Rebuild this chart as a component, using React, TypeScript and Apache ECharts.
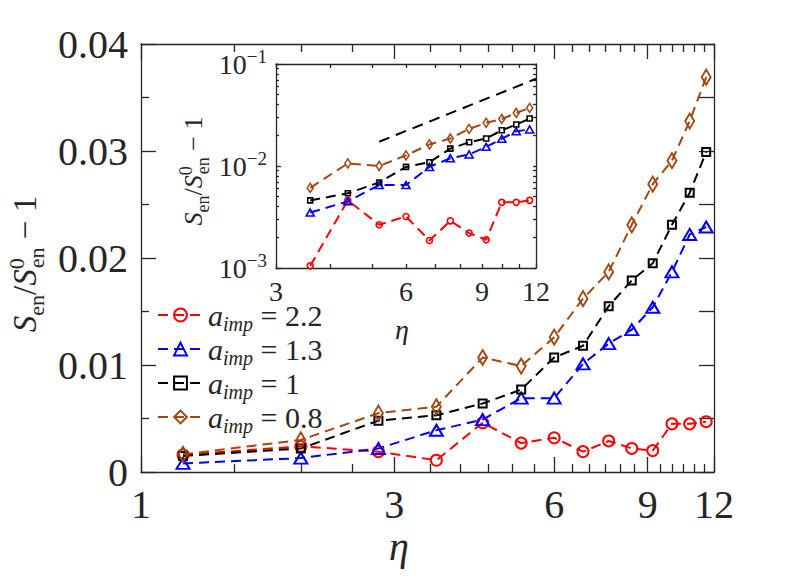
import React, { useEffect, useRef } from 'react';
import * as echarts from 'echarts';

const FONT = "'Liberation Serif', 'Times New Roman', serif";
const TXT = '#262626';
const RED = '#ff0000';
const BLUE = '#0000ff';
const BLACK = '#000000';
const BROWN = '#a3470f';

// main panel data (eta on log axis, linear y)
const etaMain = [1.2, 2.0, 2.8, 3.6, 4.4, 5.2, 6.0, 6.8, 7.6, 8.4, 9.2, 10.0, 10.8, 11.6];
const yRed = [0.0016, 0.0024, 0.0019, 0.0011, 0.0046, 0.0027, 0.0032, 0.0019, 0.0029, 0.0022, 0.002, 0.0045, 0.0045, 0.0047];
const yBlue = [0.0008, 0.0013, 0.0022, 0.0039, 0.0049, 0.0069, 0.0069, 0.0101, 0.012, 0.0133, 0.0154, 0.0187, 0.0222, 0.0229];
const yBlack = [0.0015, 0.0022, 0.0048, 0.0053, 0.0064, 0.0077, 0.0107, 0.0118, 0.0155, 0.0179, 0.0195, 0.0231, 0.0261, 0.0299];
const yBrown = [0.00165, 0.003, 0.0055, 0.0061, 0.0107, 0.0099, 0.0126, 0.0162, 0.0187, 0.0231, 0.0269, 0.0291, 0.0328, 0.0369];

// inset data (log-log)
const etaInset = [3.6, 4.4, 5.2, 6.0, 6.8, 7.6, 8.4, 9.2, 10.0, 10.8, 11.6];
const iRed = [0.00105, 0.0046, 0.00265, 0.0032, 0.00186, 0.0029, 0.0022, 0.00189, 0.0044, 0.0044, 0.0046];
const iBlue = [0.0035, 0.0045, 0.0065, 0.0065, 0.0098, 0.0119, 0.013, 0.0154, 0.0185, 0.0219, 0.0228];
const iBlack = [0.0046, 0.0054, 0.0069, 0.0098, 0.0109, 0.0148, 0.0171, 0.0186, 0.0224, 0.0255, 0.0292];
const iBrown = [0.0061, 0.0106, 0.01, 0.0127, 0.0163, 0.0186, 0.0231, 0.0265, 0.0289, 0.0331, 0.0371];
const refEta = [5.2, 12];
const refVal = [0.0173, 0.0716];

const legendNames = ['2.2', '1.3', '1', '0.8'];

// ticks
const xMajor = [1, 3, 6, 9, 12];
const xMinor = [1.5, 2, 2.5, 3.5, 4, 4.5, 5, 5.5, 6.5, 7, 7.5, 8, 8.5, 9.5, 10, 10.5, 11, 11.5];
const insetXTicks = [3, 4, 5, 6, 7, 8, 9, 10, 11, 12];
const insetXLabels = [3, 6, 9, 12];
const insetYMajor = [0.001, 0.01, 0.1];
const insetYMinor = [0.002, 0.003, 0.004, 0.005, 0.006, 0.007, 0.008, 0.009, 0.02, 0.03, 0.04, 0.05, 0.06, 0.07, 0.08, 0.09];

const lg = (v: number) => Math.log10(v);
const AX = { color: TXT, width: 1.3 };

function mainSeries(name: string, ys: number[], color: string, symbol: string, size: any) {
  return {
    type: 'line', name, xAxisIndex: 0, yAxisIndex: 0,
    data: etaMain.map((e, i) => [lg(e), ys[i]]),
    symbol, symbolSize: size, showAllSymbol: true,
    lineStyle: { color, width: 2, type: [10, 6] },
    itemStyle: { color: 'rgba(0,0,0,0)', borderColor: color, borderWidth: 2 },
    emphasis: { disabled: true }, silent: true, z: 3,
  };
}
function insetSeries(name: string, ys: number[], color: string, symbol: string, size: any) {
  return {
    type: 'line', name, xAxisIndex: 4, yAxisIndex: 2,
    data: etaInset.map((e, i) => [lg(e), lg(ys[i])]),
    symbol, symbolSize: size, showAllSymbol: true,
    lineStyle: { color, width: 2, type: [10, 6] },
    itemStyle: { color: 'rgba(0,0,0,0)', borderColor: color, borderWidth: 1.6 },
    emphasis: { disabled: true }, silent: true, z: 3,
  };
}

const labelRich = (big: number, small: number, lh: number, subPad: number, supPad: number) => ({
  i: { fontStyle: 'italic', fontSize: big, fontFamily: FONT, lineHeight: lh, align: 'left', verticalAlign: 'middle', fill: TXT, color: TXT },
  n: { fontSize: big, fontFamily: FONT, lineHeight: lh, align: 'left', verticalAlign: 'middle', fill: TXT, color: TXT },
  sb: { fontSize: small, fontFamily: FONT, lineHeight: small, padding: [subPad, 0, 0, 0], align: 'left', verticalAlign: 'middle', fill: TXT, color: TXT },
  sp: { fontSize: small, fontFamily: FONT, lineHeight: small, width: 1, padding: [0, 0, supPad, 0], align: 'left', verticalAlign: 'middle', fill: TXT, color: TXT },
});
const yLabelText = '{i|S}{sb|en}{n|/}{i|S}{sp|0}{sb|en}{n| − 1}';

const option: any = {
  animation: false,
  backgroundColor: '#ffffff',
  grid: [
    { left: 141, top: 44, width: 573, height: 428, outerBoundsMode: 'none', containLabel: false },
    { left: 276, top: 64, width: 260, height: 204, outerBoundsMode: 'none', containLabel: false, show: true, backgroundColor: '#ffffff', borderWidth: 0 },
  ],
  legend: {
    data: legendNames, orient: 'vertical', left: 157, top: 296, padding: 0,
    itemWidth: 45, itemHeight: 16, itemGap: -4, selectedMode: false,
    formatter: (n: string) => `{a|a}{s|imp}{e| = ${n}}`,
    textStyle: {
      color: TXT, fontFamily: FONT, fontSize: 29,
      rich: {
        a: { fontStyle: 'italic', fontSize: 30, fontFamily: FONT, lineHeight: 26, align: 'left', verticalAlign: 'middle', color: TXT },
        s: { fontStyle: 'italic', fontSize: 20, fontFamily: FONT, lineHeight: 8, padding: [18, 0, 0, 0], align: 'left', verticalAlign: 'middle', color: TXT },
        e: { fontSize: 30, fontFamily: FONT, lineHeight: 26, align: 'left', verticalAlign: 'middle', color: TXT },
      },
    },
  },
  xAxis: [
    {
      gridIndex: 0, type: 'value', min: 0, max: lg(12), position: 'bottom',
      axisLine: { show: true, onZero: false, lineStyle: AX },
      axisTick: { show: true, inside: true, length: 15, customValues: xMajor.map(lg), lineStyle: AX },
      axisLabel: { show: true, customValues: xMajor.map(lg), formatter: (v: number) => String(Math.round(Math.pow(10, v))), fontFamily: FONT, fontSize: 40, color: TXT, margin: 12 },
      splitLine: { show: false },
    },
    {
      gridIndex: 0, type: 'value', min: 0, max: lg(12), position: 'bottom',
      axisLine: { show: false, onZero: false },
      axisTick: { show: true, inside: true, length: 8, customValues: xMinor.map(lg), lineStyle: AX },
      axisLabel: { show: false }, splitLine: { show: false },
    },
    {
      gridIndex: 0, type: 'value', min: 0, max: lg(12), position: 'top',
      axisLine: { show: true, onZero: false, lineStyle: AX },
      axisTick: { show: true, inside: true, length: 15, customValues: xMajor.map(lg), lineStyle: AX },
      axisLabel: { show: false }, splitLine: { show: false },
    },
    {
      gridIndex: 0, type: 'value', min: 0, max: lg(12), position: 'top',
      axisLine: { show: false, onZero: false },
      axisTick: { show: true, inside: true, length: 8, customValues: xMinor.map(lg), lineStyle: AX },
      axisLabel: { show: false }, splitLine: { show: false },
    },
    {
      gridIndex: 1, type: 'value', min: lg(3), max: lg(12), position: 'bottom',
      axisLine: { show: true, onZero: false, lineStyle: AX },
      axisTick: { show: true, inside: true, length: 4, customValues: insetXTicks.map(lg), lineStyle: AX },
      axisLabel: { show: true, customValues: insetXLabels.map(lg), formatter: (v: number) => String(Math.round(Math.pow(10, v))), fontFamily: FONT, fontSize: 28, lineHeight: 18, color: TXT, margin: 14 },
      splitLine: { show: false },
    },
    {
      gridIndex: 1, type: 'value', min: lg(3), max: lg(12), position: 'top',
      axisLine: { show: true, onZero: false, lineStyle: AX },
      axisTick: { show: true, inside: true, length: 4, customValues: insetXTicks.map(lg), lineStyle: AX },
      axisLabel: { show: false }, splitLine: { show: false },
    },
  ],
  yAxis: [
    {
      gridIndex: 0, type: 'value', min: 0, max: 0.04, interval: 0.01, position: 'left',
      axisLine: { show: true, onZero: false, lineStyle: AX },
      axisTick: { show: true, inside: true, length: 15, lineStyle: AX },
      minorTick: { show: true, splitNumber: 2, length: 8, lineStyle: AX },
      axisLabel: { show: true, formatter: (v: number) => (Math.abs(v) < 1e-9 ? '0' : v.toFixed(2)), fontFamily: FONT, fontSize: 40, color: TXT, margin: 13 },
      splitLine: { show: false }, minorSplitLine: { show: false },
    },
    {
      gridIndex: 0, type: 'value', min: 0, max: 0.04, interval: 0.005, position: 'right',
      axisLine: { show: true, onZero: false, lineStyle: AX },
      axisTick: { show: true, inside: true, length: 15, lineStyle: AX },
      axisLabel: { show: false }, splitLine: { show: false },
    },
    {
      gridIndex: 1, type: 'value', min: -3, max: -1, position: 'left',
      axisLine: { show: true, onZero: false, lineStyle: AX },
      axisTick: { show: true, inside: true, length: 5, customValues: insetYMajor.map(lg), lineStyle: AX },
      axisLabel: {
        show: true, customValues: insetYMajor.map(lg), margin: 9,
        formatter: (v: number) => `{b|10}{p|−${Math.round(-v)}}`,
        rich: {
          b: { fontSize: 28, fontFamily: FONT, color: TXT, lineHeight: 30, align: 'left', verticalAlign: 'middle' },
          p: { fontSize: 19, fontFamily: FONT, color: TXT, lineHeight: 19, padding: [0, 0, 16, 0], align: 'left', verticalAlign: 'middle' },
        },
      },
      splitLine: { show: false },
    },
    {
      gridIndex: 1, type: 'value', min: -3, max: -1, position: 'left',
      axisLine: { show: false, onZero: false },
      axisTick: { show: true, inside: true, length: 3, customValues: insetYMinor.map(lg), lineStyle: AX },
      axisLabel: { show: false }, splitLine: { show: false },
    },
    {
      gridIndex: 1, type: 'value', min: -3, max: -1, position: 'right',
      axisLine: { show: true, onZero: false, lineStyle: AX },
      axisTick: { show: true, inside: true, length: 3, customValues: insetYMajor.concat(insetYMinor).map(lg), lineStyle: AX },
      axisLabel: { show: false }, splitLine: { show: false },
    },
  ],
  series: [
    mainSeries('2.2', yRed, RED, 'circle', 11),
    mainSeries('1.3', yBlue, BLUE, 'triangle', [13, 11]),
    mainSeries('1', yBlack, BLACK, 'rect', 8),
    mainSeries('0.8', yBrown, BROWN, 'diamond', [9, 15]),
    {
      type: 'line', name: 'ref', xAxisIndex: 4, yAxisIndex: 2,
      data: refEta.map((e, i) => [lg(e), lg(refVal[i])]),
      symbol: 'none', lineStyle: { color: BLACK, width: 2, type: [11, 7] }, silent: true, z: 3,
    },
    insetSeries('i2.2', iRed, RED, 'circle', 6),
    insetSeries('i1.3', iBlue, BLUE, 'triangle', [8, 7]),
    insetSeries('i1', iBlack, BLACK, 'rect', 5),
    insetSeries('i0.8', iBrown, BROWN, 'diamond', [6, 9]),
  ],
  graphic: [
    { type: 'text', x: 399, y: 546, style: { text: 'η', fontStyle: 'italic', fontSize: 40, fontFamily: FONT, fill: TXT, align: 'center', verticalAlign: 'middle' } },
    { type: 'text', x: 402, y: 329, style: { text: 'η', fontStyle: 'italic', fontSize: 28, fontFamily: FONT, fill: TXT, align: 'center', verticalAlign: 'middle' } },
    { type: 'text', x: 25, y: 264, rotation: Math.PI / 2, style: { text: yLabelText, align: 'center', verticalAlign: 'middle', fill: TXT, fontSize: 33, fontFamily: FONT, rich: labelRich(33, 22, 50, 23, 18) } },
    { type: 'text', x: 193, y: 171, rotation: Math.PI / 2, style: { text: yLabelText, align: 'center', verticalAlign: 'middle', fill: TXT, fontSize: 26, fontFamily: FONT, rich: labelRich(26, 18, 40, 19, 15) } },
  ],
};

export default function App() {
  const ref = useRef<HTMLDivElement>(null);
  useEffect(() => {
    const chart = echarts.init(ref.current as HTMLDivElement, null, { renderer: 'svg' });
    chart.setOption(option);
    return () => chart.dispose();
  }, []);
  return <div ref={ref} style={{ position: 'fixed', left: 0, top: 0, width: 789, height: 586, background: '#fff' }} />;
}
